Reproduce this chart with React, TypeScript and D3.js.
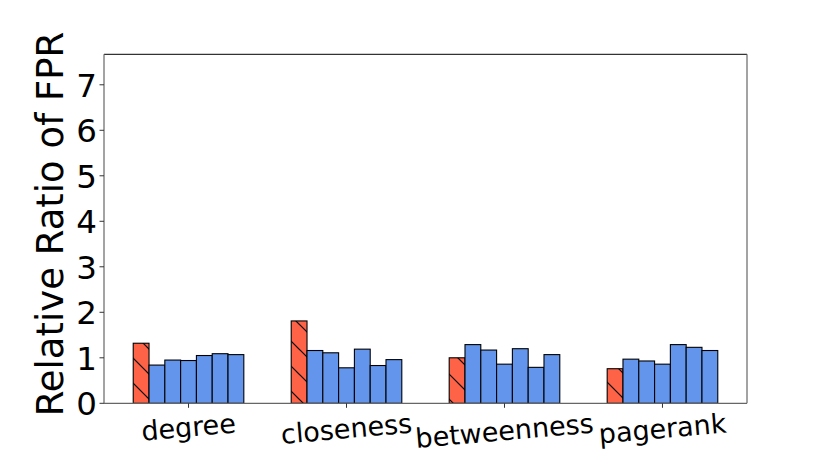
import React from "react";
import * as d3 from "d3";

const categories = ["degree", "closeness", "betweenness", "pagerank"];
const seriesRed = [1.32, 1.81, 1.0, 0.76];
const seriesB1 = [0.84, 1.16, 1.29, 0.97];
const seriesB2 = [0.95, 1.11, 1.17, 0.93];
const seriesB3 = [0.94, 0.78, 0.86, 0.86];
const seriesB4 = [1.05, 1.19, 1.2, 1.29];
const seriesB5 = [1.09, 0.83, 0.79, 1.23];
const seriesB6 = [1.07, 0.96, 1.07, 1.16];
const allSeries = [seriesRed, seriesB1, seriesB2, seriesB3, seriesB4, seriesB5, seriesB6];
const yTicks = [0, 1, 2, 3, 4, 5, 6, 7];
const yLabel = "Relative Ratio of FPR";

const W = 830;
const H = 453;
const L = 104, R = 747, T = 54.3, B = 403.3;
const FONT = "DejaVu Sans, sans-serif";
const XFS = 27;
const YFS = 32.5;
const ANG = 5;

function measure(text: string, fs: number): number {
  if (typeof document === "undefined") return text.length * fs * 0.6;
  const c = document.createElement("canvas");
  const ctx = c.getContext("2d");
  if (!ctx) return text.length * fs * 0.6;
  ctx.font = `${fs}px "DejaVu Sans"`;
  return ctx.measureText(text).width;
}

export default function App() {
  const x = d3.scaleLinear().domain([-0.535, 3.535]).range([L, R]);
  const y = d3.scaleLinear().domain([0, 7.67]).range([B, T]);
  const bw = 0.1;
  const rad = (ANG * Math.PI) / 180;

  return (
    <svg width={W} height={H} style={{ position: "absolute", left: 0, top: 0, background: "#fff" }}>
      <defs>
        <pattern id="hatch" patternUnits="userSpaceOnUse" width={25} height={25}>
          <rect width={25} height={25} fill="#FF6347" />
          <line x1={0} y1={0} x2={25} y2={25} stroke="#000" strokeWidth={1.2} />
          <line x1={-2} y1={23} x2={2} y2={27} stroke="#000" strokeWidth={1.2} />
          <line x1={23} y1={-2} x2={27} y2={2} stroke="#000" strokeWidth={1.2} />
        </pattern>
      </defs>
      <rect x={0} y={0} width={W} height={H} fill="#fff" />
      {allSeries.map((s, j) =>
        s.map((v, i) => {
          const x0 = x(i + (j - 3.5) * bw);
          const x1 = x(i + (j - 2.5) * bw);
          return (
            <rect
              key={`${j}-${i}`}
              x={x0}
              y={y(v)}
              width={x1 - x0}
              height={y(0) - y(v)}
              fill={j === 0 ? "url(#hatch)" : "#6495ED"}
              stroke="#000"
              strokeWidth={1.1}
            />
          );
        })
      )}
      {/* spines */}
      <line x1={L} y1={T} x2={R} y2={T} stroke="#000" strokeWidth={1} />
      <line x1={L} y1={T} x2={L} y2={B} stroke="#666" strokeWidth={1.2} />
      <line x1={R} y1={T} x2={R} y2={B} stroke="#666" strokeWidth={1.2} />
      <line x1={L} y1={B} x2={R} y2={B} stroke="#666" strokeWidth={1.2} />
      {/* y ticks */}
      {yTicks.map((t) => (
        <g key={t}>
          <line x1={L - 4.5} x2={L} y1={y(t)} y2={y(t)} stroke="#333" strokeWidth={1} />
          <text x={97} y={y(t) + 0.364 * YFS} textAnchor="end" fontFamily={FONT} fontSize={YFS} fill="#000">
            {t}
          </text>
        </g>
      ))}
      {/* x ticks */}
      {categories.map((c, i) => {
        const tx = x(i);
        const w = measure(c, XFS);
        const h = 1.164 * XFS;
        const bh = w * Math.sin(rad) + h * Math.cos(rad);
        const cy = 407.5 + bh / 2;
        return (
          <g key={c}>
            <line x1={tx} x2={tx} y1={B} y2={B + 4.5} stroke="#333" strokeWidth={1} />
            <text
              x={tx}
              y={cy + 0.346 * XFS}
              textAnchor="middle"
              fontFamily={FONT}
              fontSize={XFS}
              fill="#000"
              transform={`rotate(${-ANG}, ${tx}, ${cy})`}
            >
              {c}
            </text>
          </g>
        );
      })}
      <text
        x={0}
        y={0}
        transform={`translate(63, 224) rotate(-90)`}
        textAnchor="middle"
        fontFamily={FONT}
        fontSize={37}
        fill="#000"
      >
        {yLabel}
      </text>
    </svg>
  );
}
